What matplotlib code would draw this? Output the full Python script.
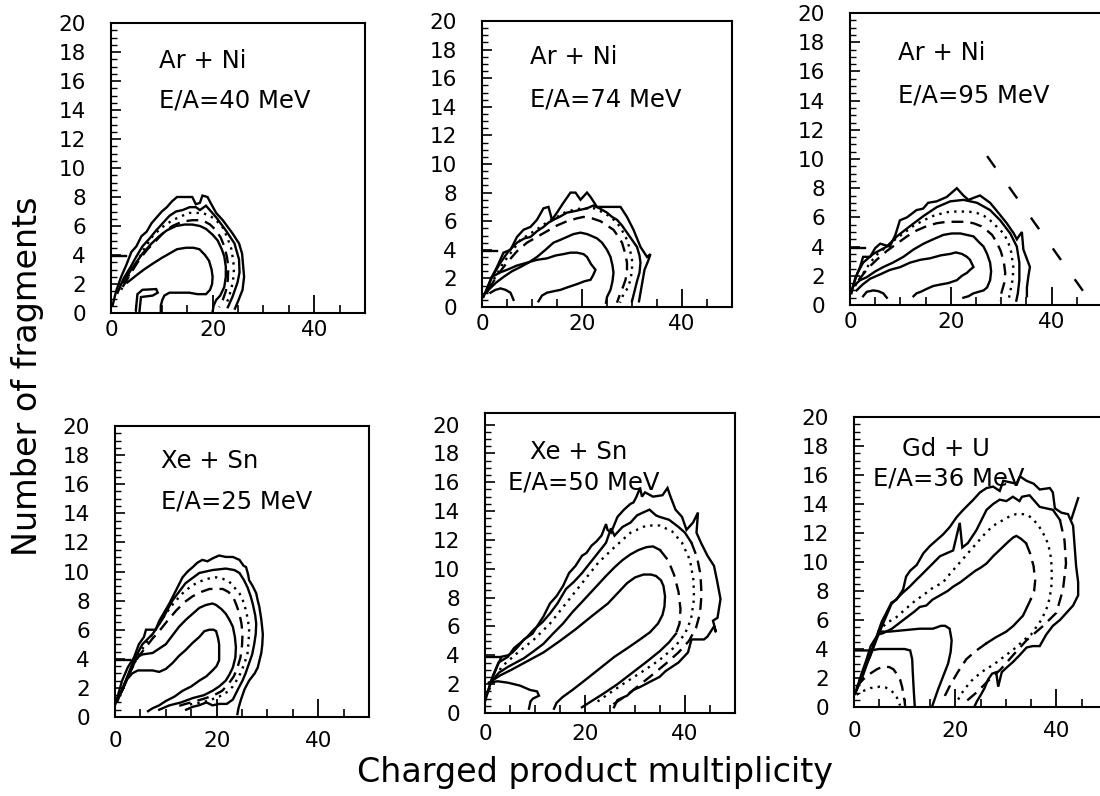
import matplotlib
matplotlib.use('Agg')
import matplotlib.pyplot as plt

# Contour traces: (multiplicity, number of fragments)

# --- Ar + Ni, E/A = 40 MeV
p1_outer = [(0.3,0.5),(1,1.5),(2,2.5),(3,3.3),(4,4.2),(5,4.6),(6,5.3),(7,5.6),(8,6.2),(9,6.6),(10,7.0),
            (11,7.3),(12,7.7),(13,8.0),(14,8.0),(15,8.0),(16,8.0),(16.7,7.5),(17.5,7.6),(18,8.1),(19,8.0),
            (19.6,7.6),(20.7,6.9),(22,6.4),(23.9,5.5),(25.2,4.8),(25.8,4.1),(26.2,2.5),(25.9,1.6),(25.0,0.8),(24.4,0.3)]
p1_second = [(1.3,1.4),(2.5,2.4),(3.9,3.2),(5,3.9),(6.2,4.6),(7.5,5.1),(8.9,5.7),(10.2,6.2),(11.5,6.7),(12.8,7.0),
             (14.1,7.1),(15.5,7.3),(16.7,7.3),(17.5,7.1),(18.7,7.4),(19.7,7.0),(20.7,6.6),(22.6,5.7),(24.3,4.8),
             (25.2,3.7),(25.3,2.8),(24.9,2.1),(23.9,1.1),(23,0.4)]
p1_dotted = [(2,1.6),(3.5,2.6),(4.9,3.4),(6.5,4.4),(8.2,5.3),(10,5.9),(12.1,6.4),(14,6.7),(15.4,6.9),(17,6.9),
             (18,6.9),(19.5,6.7),(20.7,6.4),(22,5.9),(22.9,5.2),(23.7,4.4),(24.1,3.5),(24.2,2.7),(23.9,2.0),
             (23.3,1.2),(22.6,0.5)]
p1_dashed = [(2.3,1.8),(4,2.8),(5.6,3.7),(7.2,4.4),(8.9,5.0),(10.5,5.6),(12.1,6.0),(14,6.3),(16,6.4),(18,6.4),
             (19.5,6.1),(20.7,5.7),(21.6,5.2),(22.3,4.6),(22.8,3.9),(23.1,3.2),(23.0,2.3),(22.6,1.5),(22.0,0.9),(21.3,0.4)]
p1_third = [(2.3,2.1),(4,3.0),(6.2,4.1),(8,4.8),(9.5,5.3),(11,5.7),(12.8,6.0),(14.5,6.1),(16,6.1),(17.5,6.0),
            (18.7,5.8),(20,5.4),(21,5.0),(21.8,4.4),(22.3,3.9),(22.6,3.2),(22.6,2.5),(22.3,1.8),(21.5,1.2),
            (20.7,0.9),(20.2,0.5),(20,0.1)]
p1_inner = [(3.2,2.1),(5,2.6),(6.5,3.0),(8.2,3.4),(10,3.8),(11.5,4.1),(13,4.4),(14.8,4.5),(16.2,4.5),(17.4,4.4),
            (18.5,4.0),(19.3,3.6),(19.8,3.0),(20,2.5),(19.9,2.0),(19.5,1.6),(18.7,1.3),(17,1.3),(15.4,1.4),
            (13.5,1.4),(11.5,1.4),(10.5,1.2),(10.1,0.9),(9.8,0.5),(9.8,0.1)]
p1_tongue = [(4.9,0.2),(5.2,1.3),(6.2,1.6),(8.9,1.65),(9.2,1.4),(8.2,1.2),(5.9,1.1),(5.6,0.1)]

# --- Ar + Ni, E/A = 74 MeV
p2_outer = [(0.3,0.7),(1.7,1.9),(3,2.8),(4.3,3.8),(5.7,4.0),(7,4.9),(8.3,5.4),(9.7,5.6),(11,6.1),(12.3,6.9),
            (13.3,7.0),(14,6.1),(15,6.6),(16.3,7.3),(17.7,8.0),(18.7,8.0),(19.7,7.5),(21,8.0),(21.7,7.7),(23,7.0),
            (25,7.0),(27.7,7.0),(29,6.3),(30.3,5.4),(31.7,4.2),(33,3.5),(33.7,3.7),(33.2,3.2),(32.5,2.6),
            (32.2,2.0),(31.8,1.2),(31.4,0.4)]
p2_second = [(0.7,1.0),(2,2.1),(3.7,3.1),(5.3,3.9),(7,4.5),(8.5,4.8),(9.7,4.9),(11,5.3),(12.3,5.6),(13.3,5.9),
             (14.3,6.1),(15.5,6.3),(17,6.6),(18.5,6.7),(19.7,6.8),(21,6.9),(22.3,7.1),(23.5,6.9),(25,6.6),
             (26,6.3),(27,6.1),(28,5.7),(29,5.2),(30,4.7),(31,4.2),(31.5,3.6),(31.7,3.1),(31.5,2.4),(31.0,1.8),
             (30.5,1.1),(30.0,0.4)]
p2_dotted = [(1,1.0),(2.5,2.0),(4.3,3.1),(6,3.9),(7.7,4.7),(9.5,5.1),(11.7,5.6),(13.3,6.0),(15,6.3),(16.5,6.6),
             (18.3,6.8),(20,6.9),(22.5,6.9),(24.3,6.6),(25.7,6.3),(27,5.9),(28.1,5.3),(29,4.7),(29.6,4.0),
             (30,3.3),(30,2.6),(29.7,1.9),(29.1,1.3),(28.3,0.9),(27.6,0.3)]
p2_dashed = [(1.3,1.2),(3,2.2),(5,3.1),(7,3.9),(9,4.5),(11,4.9),(13,5.3),(15,5.7),(17,6.0),(19,6.2),(20.3,6.3),
             (22,6.2),(23.7,6.0),(25,5.7),(26.3,5.4),(27.3,4.9),(28,4.5),(28.6,3.8),(29,3.1),(29,2.5),(28.7,1.9),
             (28.2,1.4),(27.7,1.0),(27,0.3)]
p2_third = [(1.3,1.2),(2.8,1.7),(4.3,2.1),(6,2.5),(7.7,2.8),(9.3,3.1),(11,3.5),(12.7,4.0),(14.3,4.5),(15.7,4.7),
            (17,4.9),(18.3,5.1),(19.7,5.2),(21,5.1),(21.7,5.0),(23,4.8),(24,4.5),(25,4.0),(25.7,3.5),(26.1,2.9),
            (26.3,2.4),(26.1,1.8),(25.7,1.2),(25,0.7),(24.8,0.3)]
p2_inner = [(2,2.1),(3.5,2.4),(5,2.6),(7,2.9),(9,3.1),(11,3.3),(13,3.4),(14.7,3.6),(16.3,3.7),(17.7,3.8),(19,3.8),
            (20.3,3.7),(21,3.5),(21.8,3.0),(22.7,2.6),(22.2,2.2),(21.7,1.9),(20.5,1.8),(19,1.6),(17.3,1.4),
            (15.7,1.2),(14.3,1.1),(13,1.0),(12,0.8),(11.3,0.4)]
p2_arc = [(1.7,1.0),(2.7,1.2),(3.7,1.3),(4.7,1.2),(5.7,1.0),(6.3,0.5)]

# --- Ar + Ni, E/A = 95 MeV
p3_outer = [(0.3,0.8),(1,1.8),(2,2.6),(2.6,3.3),(4.0,3.3),(5.0,3.9),(6.0,4.2),(7.9,4.0),(9.0,4.8),(9.9,5.8),
            (11.3,6.0),(13.2,6.5),(14.5,6.6),(15.5,7.0),(17.2,7.1),(19.2,7.4),(20.2,7.7),(21.2,8.0),(22.5,7.5),
            (23.5,7.2),(25.0,7.4),(25.8,7.5),(27.8,7.0),(29.0,6.5),(31.1,5.6),(32.5,4.9),(33.1,4.5),(34.1,5.0),
            (34.4,3.8),(35.7,2.6),(35.4,2.0),(35.1,1.2),(35.1,0.6)]
p3_second = [(0.3,1.0),(1.5,2.2),(2.6,2.9),(4.6,3.5),(7.3,4.0),(9.3,4.7),(11.9,5.4),(14.6,6.1),(17.2,6.7),
             (19.9,7.1),(22.5,7.2),(25.2,7.0),(27.8,6.5),(29.8,5.8),(31.8,4.9),(33.1,4.0),(33.6,2.9),(33.6,1.7),
             (33.3,0.8),(33.0,0.3)]
p3_dotted = [(1,1.3),(2.5,2.1),(4,2.9),(5.5,3.5),(7.3,4.0),(9,4.5),(10.6,4.9),(12.5,5.4),(14.6,5.8),(16.5,6.1),
             (18.5,6.3),(20,6.4),(21.9,6.4),(23.5,6.4),(25.2,6.3),(26.6,6.1),(27.8,5.8),(29,5.4),(30.5,4.9),
             (31.4,4.3),(32.0,3.6),(32.4,2.6),(32.3,1.8),(31.9,1.1),(31.5,0.4)]
p3_dashed = [(1.7,1.7),(3.5,2.5),(5.3,3.1),(7.3,3.7),(9.3,4.2),(11.3,4.7),(13.2,5.1),(15.2,5.4),(17.2,5.6),
             (19.2,5.7),(21.2,5.7),(23,5.7),(24.5,5.6),(26,5.4),(27.2,5.1),(28.2,4.8),(29.1,4.3),(29.9,3.7),
             (30.5,3.0),(30.8,2.2),(30.6,1.5),(30.1,0.9),(29.6,0.3)]
p3_third = [(0.7,1.3),(2,1.7),(3.3,1.9),(5,2.3),(6.6,2.6),(8.5,2.9),(10.6,3.3),(12.6,3.8),(14.6,4.2),(16.5,4.5),
            (18.5,4.8),(20.2,4.9),(21.9,4.9),(23.2,4.8),(24.5,4.7),(25.6,4.3),(26.5,4.0),(27.2,3.5),(27.8,2.9),
            (28.0,2.3),(27.8,1.7),(27.2,1.2),(26.5,1.0),(25.5,0.9),(24.5,0.8),(23.5,0.6),(22.5,0.5)]
p3_inner = [(1.3,1.0),(2.5,1.4),(4,1.8),(6,2.1),(7.9,2.4),(10,2.6),(11.9,2.9),(14,3.1),(15.9,3.2),(18,3.4),
            (19.9,3.5),(21,3.6),(22.2,3.5),(23.2,3.3),(23.8,3.1),(24.5,2.6),(23.8,2.4),(23.2,2.2),(22.2,2.0),
            (21.2,1.7),(19.5,1.5),(17.9,1.4),(16.5,1.3),(15.2,1.1),(14,0.9),(13.2,0.8),(12.6,0.6)]
p3_arc = [(2.6,0.6),(3.3,0.9),(4.6,1.0),(5.6,0.95),(6.6,0.8),(7.3,0.5)]
p3_limit = [(27.2,10.2),(47.6,0.3)]

# --- Xe + Sn, E/A = 25 MeV
p4_outer = [(0.1,0.9),(1.4,2.5),(2.5,3.4),(3.75,4.1),(4.7,5.0),(5.7,5.5),(6.1,6.0),(8,6.0),(8.7,6.6),(9.7,7.2),
            (10.7,7.8),(12,8.7),(13.3,9.6),(14.3,10.0),(15.3,10.3),(16.2,10.6),(17.2,10.8),(18.2,10.7),(19.2,10.9),
            (20.5,11.1),(21.8,11.0),(23.2,11.0),(24.5,10.8),(25.3,10.4),(25.8,10.3),(26.2,9.8),(26.4,9.4),
            (27.1,9.0),(27.8,8.5),(28.1,8.0),(28.4,7.6),(28.8,6.7),(29.1,5.7),(29.0,5.0),(28.8,4.4),(28.1,3.4),
            (27.5,3.0),(26.4,2.5),(25.5,1.9),(24.8,1.2),(24.3,0.6),(24.1,0.2)]
p4_second = [(0.5,1.1),(2.1,2.5),(3.7,3.9),(5.4,5.0),(7.4,5.7),(9.3,6.7),(11.3,8.0),(13.9,9.2),(16.6,9.9),
             (19.2,10.1),(21.8,10.2),(23.5,10.1),(24.5,9.9),(25.4,9.4),(26.1,8.9),(26.7,8.3),(27.1,7.8),
             (27.6,7.0),(27.8,6.4),(27.7,5.7),(27.4,5.0),(27,4.3),(26.4,3.7),(25.7,3.0),(25.1,2.5),(24.2,1.9),
             (23.2,1.2),(22,0.9),(20.5,0.9),(19.2,0.8),(18,1.0),(16.5,0.8),(15.3,0.7),(14,0.5)]
p4_dotted = [(0.8,1.4),(2.8,3.0),(4.7,4.3),(6,5.0),(7.4,5.7),(8.7,6.4),(10,7.1),(11.5,7.8),(13.3,8.5),(15,9.0),
             (16.6,9.3),(18.2,9.5),(19.9,9.6),(21.2,9.5),(22.5,9.3),(23.5,8.9),(24.5,8.5),(25.3,7.9),(25.8,7.3),
             (26.2,6.6),(26.4,6.0),(26.3,5.2),(26.1,4.4),(25.5,3.7),(24.7,3.0),(23.9,2.5),(23.2,2.1),(22,1.7),
             (20.5,1.4),(19,1.2),(17.2,1.0),(15.3,0.9),(14,0.8)]
p4_dashed = [(1.1,1.6),(2.2,2.5),(3.4,3.4),(4.7,4.2),(6.1,4.8),(7.4,5.4),(8.7,5.9),(10.3,6.6),(12,7.3),
             (13.7,7.9),(15.3,8.3),(17,8.6),(18.6,8.8),(20,8.8),(21.2,8.8),(22.3,8.6),(23.2,8.3),(23.9,7.7),
             (24.5,7.1),(24.9,6.4),(25.1,5.7),(25,4.9),(24.7,4.1),(24.1,3.4),(23.4,2.8),(22.4,2.3),(21.1,1.8),
             (19.5,1.5),(17.9,1.3),(16,1.1),(13.9,0.9),(12,0.7)]
p4_third = [(1.1,1.6),(2.2,2.5),(3.4,3.4),(4.3,4.1),(5.4,4.3),(7.4,4.4),(8.7,4.7),(10,5.0),(11.3,5.6),
            (12.6,6.2),(14,6.7),(15.3,7.1),(16.6,7.5),(17.9,7.7),(19.2,7.8),(19.9,7.7),(21,7.4),(21.8,7.1),
            (22.5,6.7),(23.2,6.2),(23.6,5.5),(23.8,4.8),(23.7,4.1),(23.2,3.4),(22.5,2.9),(21.8,2.5),(20.5,2.1),
            (19.2,1.8),(17.5,1.5),(15.3,1.3),(13,1.0),(10.7,0.8),(8.7,0.5)]
p4_inner = [(1.4,1.8),(2.4,2.6),(3.4,3.0),(4.5,3.2),(6.1,3.2),(7.4,3.2),(8.7,3.1),(10,3.3),(11.3,3.7),
            (12.6,4.2),(13.9,4.6),(15.3,5.1),(16.6,5.5),(17.6,5.9),(18.6,6.0),(19.4,6.0),(19.9,5.9),(20.3,5.4),
            (20.5,5.0),(20.5,4.4),(20.5,3.9),(20.0,3.5),(19.2,3.2),(18,2.8),(16.6,2.5),(15,2.1),(13.3,1.8),
            (11.7,1.4),(10,1.1),(8.7,0.8),(7.4,0.6),(6.5,0.4)]

# --- Xe + Sn, E/A = 50 MeV
p5_outer = [(0.1,0.9),(1.1,2.1),(2.4,3.2),(3.3,3.9),(4.6,4.0),(5.5,4.2),(6.6,4.6),(7.8,5.1),(9.5,5.5),
            (10.4,6.0),(11.7,6.7),(13,7.6),(14.3,8.1),(15.6,8.8),(16.8,9.7),(18.1,10.2),(19.4,10.9),(20.3,11.1),
            (21.3,11.6),(22.3,11.9),(23.3,12.3),(24.2,13.1),(24.5,12.7),(25.2,12.5),(26.5,13.6),(27.8,14.1),
            (29.1,14.5),(29.7,14.6),(30.3,15.0),(31,15.6),(31.4,15.0),(32,15.3),(33.6,15.0),(35.5,15.1),
            (36.5,15.6),(37.1,15.0),(38.1,14.1),(39.4,13.6),(40.3,12.7),(41.6,13.2),(42.6,13.9),(42.3,12.5),
            (43.2,11.8),(44.5,10.9),(45.8,10.2),(46.4,9.2),(47.1,7.9),(46.5,6.6),(45.6,6.4),(46.2,5.6),
            (45.8,6.0),(44.5,5.3),(43.8,5.1),(41.3,5.1),(40.6,4.2),(38.7,3.5),(36.1,2.9),(34.9,2.5),(33.2,2.2),
            (31,1.8),(29.7,1.6),(28.4,1.2),(26.5,0.9),(25.8,0.4)]
p5_second_solid = [(0.5,1.4),(1.6,2.6),(2.7,3.5),(4.6,3.9),(5.8,4.5),(7.2,4.9),(8.5,5.3),(9.8,5.8),(11.5,6.3),
                   (13,6.9),(14.5,7.6),(16.2,8.6),(17.8,9.1),(19.4,9.7),(21,10.4),(22.6,11.1),(24.2,11.8),
                   (25.2,12.8),(25.9,12.3),(27.5,12.9),(29.1,13.2),(30.4,13.7),(31.6,13.9),(32.9,14.1),(34.2,13.7),
                   (34.9,13.6),(36.8,13.4),(38.7,12.9),(40,12.5),(41.3,11.8)]
p5_second_dashed = [(41.3,11.8),(42.4,10.8),(43.1,9.6),(43.3,8.2),(43.0,6.9),(42.2,5.9),(40.8,5.0),(38.7,4.2),
                    (36.1,3.4),(33.3,2.6),(30.4,1.8),(27.8,1.1),(25.2,0.5)]
p5_dotted = [(0.8,1.6),(3.3,3.2),(6.6,4.2),(9.8,5.1),(13,6.2),(16.2,7.6),(19.4,9.0),(22.6,10.4),(25.9,11.5),
             (29.1,12.5),(32.3,13.0),(34.9,13.0),(37.4,12.6),(39.4,11.8),(41,10.6),(41.7,9.2),(41.8,7.9),
             (41.2,6.5),(40,5.5),(38,4.6),(35,3.7),(31.6,2.9),(28,2.1),(24.6,1.3),(21.7,0.6)]
p5_third_solid = [(1.1,2.1),(2.8,2.8),(4.6,3.2),(6.2,3.5),(7.8,3.8),(9.8,4.3),(11.7,4.8),(13.6,5.5),(15.6,6.2),
                  (17.5,7.0),(19.4,7.7),(21,8.3),(22.6,8.9),(24.2,9.5),(25.9,10.1),(27.5,10.6),(29.1,11.0),
                  (30.7,11.3),(32.3,11.5),(33.6,11.55),(35.0,11.3)]
p5_third_dashed = [(35.0,11.3),(36.6,10.6),(37.8,9.6),(38.7,8.4),(39.1,7.2),(38.9,6.2),(38.2,5.5)]
p5_third_lower = [(38.2,5.5),(36.8,4.9),(35,4.3),(32.5,3.6),(29.5,2.8),(26.5,2.0),(23.5,1.3),(21.2,0.8),(19.4,0.4)]
p5_inner = [(0.8,2.1),(3,2.6),(5.3,3.0),(8.5,3.6),(11.7,4.2),(15,5.0),(18.1,5.8),(21.3,6.7),(24.6,7.6),
            (26.5,8.3),(28.4,9.0),(30,9.4),(31.7,9.6),(33.2,9.6),(34.2,9.5),(35.2,9.2),(35.7,8.8),(36.0,8.1),
            (35.9,7.4),(35.5,6.8),(34.6,6.2),(33,5.6),(31,5.1),(28.5,4.5),(25.9,3.9),(23,3.1),(20.1,2.3),
            (17.5,1.6),(15.5,1.1),(14.3,0.7),(13.8,0.3)]
p5_tongue = [(0.8,2.1),(2.5,2.2),(4.6,2.1),(7,1.9),(9,1.6),(10.4,1.5),(10.8,1.2),(9.6,1.0),(9.1,0.8),(8.8,0.3)]

# --- Gd + U, E/A = 36 MeV
p6_outer = [(0.2,0.9),(1.8,2.2),(3.2,3.6),(4.5,4.9),(5.5,5.9),(6.4,6.5),(7.4,7.2),(8.4,7.4),(9.7,8.1),(10.3,9.0),
            (11.1,9.4),(12.4,9.8),(13.7,10.6),(15,11.1),(16.3,11.5),(17.6,11.9),(18.9,12.4),(20.3,13.1),
            (21.6,13.6),(23.6,14.3),(24.9,14.8),(26.2,15.1),(27.5,15.2),(28.8,14.9),(29.5,15.6),(30.8,15.5),
            (32.1,15.4),(32.8,15.9),(34.1,15.6),(35.5,15.4),(36.7,15.0),(38.7,15.1),(39.3,14.8),(39.7,13.7),
            (41,13.4),(42.3,13.3),(43.3,12.5),(43.6,11.1),(43.9,9.7),(44.3,8.6),(44.3,7.7),(43.3,7.0),(42,6.5),
            (40.7,6.0),(39.3,5.6),(38,5.0),(36.7,4.2),(35.3,4.2),(34.1,4.1),(32.8,3.6),(31.4,3.1),(30.1,2.7),
            (29.2,2.4),(28.5,1.4),(28.1,2.4),(27.3,2.3),(26.5,1.9),(25.8,1.3),(25.0,0.8),(24.3,0.4),(23.9,0.1)]
p6_tail = [(43.0,13.0),(44.3,14.4)]
p6_second_solid = [(0.5,1.2),(2.0,2.6),(3.2,3.5),(4.5,4.7),(5.8,5.8),(7.4,7.1),(9.7,7.9),(11,8.3),(12.4,8.8),
                   (13,9.0),(15,9.7),(17,10.4),(19.6,10.8),(20.9,12.7),(21.4,11.0),(22.5,11.3),(24.2,12.2),
                   (26.2,13.6),(27.5,14.0),(28.8,14.3),(30.1,14.2),(31.4,14.5),(32.7,14.2),(33.2,14.5),(34.7,14.6),
                   (36.7,13.8),(38,13.7),(39.3,13.6),(40.7,12.9)]
p6_second_dashed = [(40.7,12.9),(41.6,11.5),(41.9,9.9),(41.3,8.1),(40,6.5),(37.4,5.6),(34.1,4.6),(31.5,3.6),
                    (29,2.6),(26.5,1.8),(24.2,1.0),(22.2,0.4)]
p6_dotted = [(0.5,1.3),(1.8,2.5),(3,3.5),(4,4.5),(5,5.3),(6.5,5.8),(8.4,6.2),(10,6.7),(12,7.3),(14,7.8),
             (15.5,8.2),(17.6,8.6),(19,9.2),(20,9.6),(21.5,10.2),(23,10.8),(24.5,11.4),(26,12.0),(27.5,12.5),
             (29,12.8),(30.5,13.1),(32,13.3),(33.4,13.3),(34.5,13.2),(35.5,12.9),(36.5,12.5),(37.5,11.9),
             (38.3,11.3),(38.8,10.6),(39,9.9),(39.1,9.1),(39,8.3),(38.7,7.6),(38.3,7.0),(37.7,6.5),(37,6.0),
             (36,5.5),(35,5.0),(33.5,4.6),(32,4.1),(30.5,3.7),(29,3.3),(27.5,2.9),(26,2.6),(24.5,2.2),(23.2,1.8),
             (22,1.3),(21,0.8),(20.3,0.3)]
p6_third_solid = [(0.5,1.2),(1.5,2.3),(2.5,3.3),(3.3,4.2),(4,4.6),(4.8,5.0),(5.8,5.1),(7.5,5.4),(9,5.8),
                  (10.5,6.2),(12,6.6),(13,6.9),(14.3,7.0),(15.5,7.4),(17,7.7),(18.5,8.0),(19.6,8.3),(21,8.6),
                  (22.5,9.0),(24,9.4),(25,9.6),(26.2,9.9),(27.5,10.4),(29,10.9),(30.5,11.4),(31.5,11.7),
                  (32.1,11.8),(33,11.6),(34,11.3)]
p6_third_dashed = [(34,11.3),(34.8,10.6),(35.5,9.7),(35.8,8.7),(35.6,8.0),(34.9,7.4)]
p6_third_lower = [(34.9,7.4),(33.4,6.3),(31.5,5.6),(30.1,5.2),(28,4.8),(26.2,4.4)]
p6_third_tail = [(26.2,4.4),(24.2,3.9),(22.2,3.3),(20.5,2.4),(19,1.5),(18,0.8),(17.6,0.3)]
p6_box_outer = [(4.8,5.2),(7,5.2),(10,5.3),(13,5.4),(15.6,5.4),(17.2,5.6),(18.0,5.6),(18.9,5.4),(19.3,4.6),
                (19.1,3.8),(18.6,3.0),(17.6,2.1),(16.6,1.2),(16.0,0.6),(15.5,0.1)]
p6_box_inner = [(0,3.9),(3.2,3.9),(5,4.0),(8,4.0),(10,4.0),(11.1,3.9),(11.5,3.3),(11.6,2.5),(11.8,1.2),(12.0,0.1)]
p6_arc_dashed = [(0.5,1.4),(1.8,1.9),(3.2,2.3),(4.5,2.6),(5.8,2.8),(7,2.75),(7.8,2.6),(8.6,2.2),(9.1,1.9),
                 (9.5,1.4),(9.7,1.0),(10.0,0.4),(10.1,0.1)]
p6_arc_dotted = [(0.5,0.85),(1.8,1.1),(3.2,1.3),(5.1,1.4),(6.2,1.35),(7.1,1.2),(7.9,0.95),(8.4,0.7),(8.8,0.4),(9.1,0.1)]

# short horizontal edge of the lowest contour at the left border
ledge = [(0, 3.9), (3.0, 3.9)]

reactions = ['Ar + Ni', 'Ar + Ni', 'Ar + Ni', 'Xe + Sn', 'Xe + Sn', 'Gd + U']
energies = ['E/A=40 MeV', 'E/A=74 MeV', 'E/A=95 MeV', 'E/A=25 MeV', 'E/A=50 MeV', 'E/A=36 MeV']

SOLID = '-'
DOT = (0, (1, 2.2))
DASH = (0, (5, 3))
LONGDASH = (0, (6, 10))

plt.rcParams['font.family'] = 'DejaVu Sans'
fig = plt.figure(figsize=(11, 7.96), dpi=100)

W, H = 1100.0, 796.0
# pixel boxes (left, right, top, bottom) of each panel and where its label sits
panels = [
    dict(box=(111, 365, 23, 313), top=20, xpad=5, txt=(9.5, 16.9, 9.5, 14.2),
         lines=[(p1_outer, SOLID), (p1_second, SOLID), (p1_dotted, DOT), (p1_dashed, DASH),
                (p1_third, SOLID), (p1_inner, SOLID), (p1_tongue, SOLID), (ledge, SOLID)]),
    dict(box=(482, 732, 21, 307), top=20, xpad=5, txt=(9.7, 17.0, 9.7, 14.0),
         lines=[(p2_outer, SOLID), (p2_second, SOLID), (p2_dotted, DOT), (p2_dashed, DASH),
                (p2_third, SOLID), (p2_inner, SOLID), (p2_arc, SOLID), (ledge, SOLID)]),
    dict(box=(850, 1102, 13, 305), top=20, xpad=5, txt=(9.6, 16.8, 9.6, 13.9),
         lines=[(p3_outer, SOLID), (p3_second, SOLID), (p3_dotted, DOT), (p3_dashed, DASH),
                (p3_third, SOLID), (p3_inner, SOLID), (p3_arc, SOLID), (p3_limit, LONGDASH), (ledge, SOLID)]),
    dict(box=(115, 369, 426, 717), top=20, xpad=10, txt=(9.0, 17.1, 9.0, 14.3),
         lines=[(p4_outer, SOLID), (p4_second, SOLID), (p4_dotted, DOT), (p4_dashed, DASH),
                (p4_third, SOLID), (p4_inner, SOLID), (ledge, SOLID)]),
    dict(box=(485, 735, 413, 713), top=20.8, xpad=8, txt=(9.1, 17.6, 4.6, 15.5),
         lines=[(p5_outer, SOLID), (p5_second_solid, SOLID), (p5_second_dashed, DASH), (p5_dotted, DOT),
                (p5_third_solid, SOLID), (p5_third_dashed, DASH), (p5_third_lower, SOLID),
                (p5_inner, SOLID), (p5_tongue, SOLID), (ledge, SOLID)]),
    dict(box=(854, 1107, 417, 707), top=20, xpad=10, txt=(9.4, 17.3, 3.8, 15.3),
         lines=[(p6_outer, SOLID), (p6_tail, SOLID), (p6_second_solid, SOLID), (p6_second_dashed, DASH),
                (p6_dotted, DOT), (p6_third_solid, SOLID), (p6_third_dashed, DASH), (p6_third_lower, SOLID),
                (p6_third_tail, DASH), (p6_box_outer, SOLID), (p6_box_inner, SOLID),
                (p6_arc_dashed, DASH), (p6_arc_dotted, DOT)]),
]

for i, p in enumerate(panels):
    l, r, t, b = p['box']
    ax = fig.add_axes([l / W, 1 - b / H, (r - l) / W, (b - t) / H])
    for pts, style in p['lines']:
        xs = [q[0] for q in pts]
        ys = [q[1] for q in pts]
        ax.plot(xs, ys, color='black', lw=1.7, linestyle=style, solid_joinstyle='miter')
    ax.set_xlim(0, 50)
    ax.set_ylim(0, p['top'])
    ax.set_xticks([0, 20, 40])
    ax.set_xticks(range(0, 51, 5), minor=True)
    ax.set_yticks(range(0, 21, 2))
    ax.set_yticks([k * 0.5 for k in range(41)], minor=True)
    ax.tick_params(axis='x', which='major', direction='in', length=13, width=1.3, labelsize=15.5, pad=p['xpad'])
    ax.tick_params(axis='x', which='minor', direction='in', length=6, width=1.2)
    ax.tick_params(axis='y', which='major', direction='in', length=7.5, width=1.2, labelsize=15.5, pad=18)
    ax.tick_params(axis='y', which='minor', direction='in', length=4, width=1.0)
    for s in ax.spines.values():
        s.set_linewidth(1.5)
    tx1, ty1, tx2, ty2 = p['txt']
    ax.text(tx1, ty1, reactions[i], fontsize=17.5, va='baseline')
    ax.text(tx2, ty2, energies[i], fontsize=17.5, va='baseline')

fig.text(0.025, 0.527, 'Number of fragments', rotation=90, fontsize=24, ha='center', va='center')
fig.text(0.541, 0.030, 'Charged product multiplicity', fontsize=24, ha='center', va='center')

fig.savefig('out.png', dpi=100)
